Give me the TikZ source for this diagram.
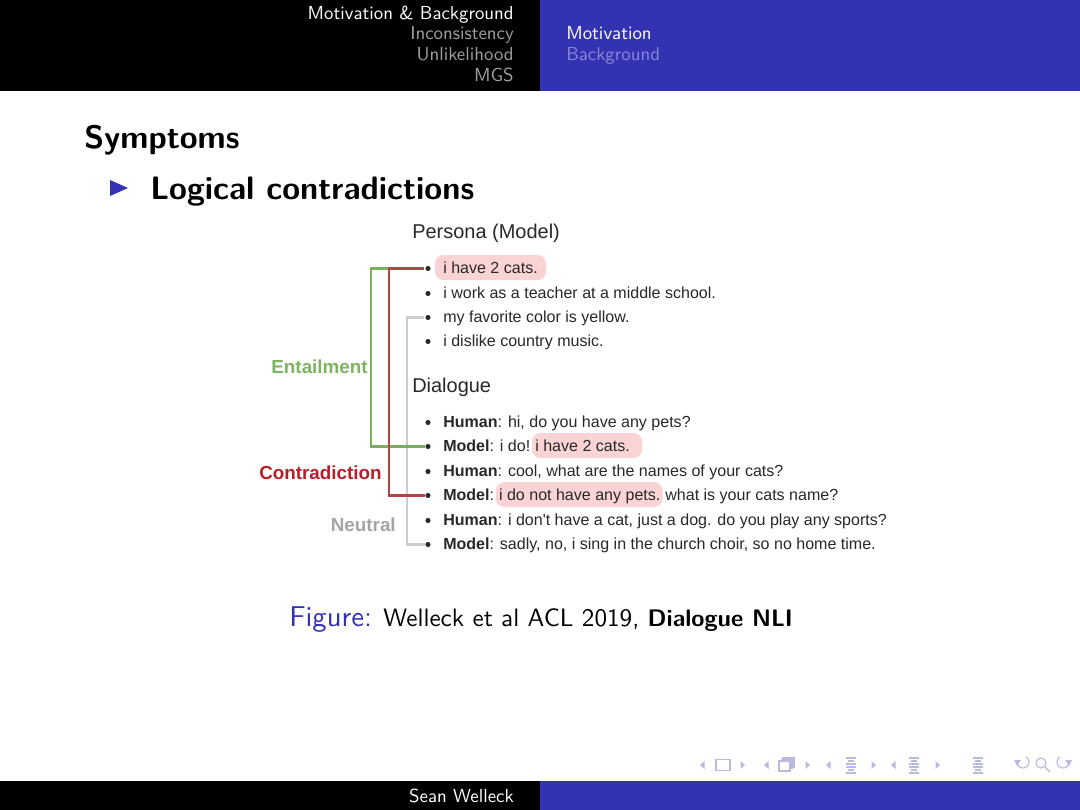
\documentclass[tikz,border=0pt]{standalone}
\usepackage{fontspec}
\setsansfont{lmsans10-regular.otf}[BoldFont=lmsans10-bold.otf]
\newfontfamily\figfont{Liberation Sans}
\usetikzlibrary{calc,backgrounds}
\definecolor{bblue}{RGB}{51,51,178}
\definecolor{hdgray}{RGB}{160,160,160}
\definecolor{hdlite}{RGB}{135,135,218}
\definecolor{navc}{RGB}{185,185,225}
\definecolor{entc}{RGB}{125,180,95}
\definecolor{entl}{RGB}{122,176,92}
\definecolor{conc}{RGB}{185,30,40}
\definecolor{conl}{RGB}{178,68,68}
\definecolor{neuc}{RGB}{165,165,165}
\definecolor{neul}{RGB}{205,205,205}
\definecolor{hlc}{RGB}{250,212,212}
\definecolor{figtext}{RGB}{40,40,40}
\tikzset{
  hdr/.style={font=\sffamily\fontsize{13.4}{16}\selectfont, inner sep=0, anchor=base east},
  hdrr/.style={font=\sffamily\fontsize{13.4}{16}\selectfont, inner sep=0, anchor=base west},
  ttl/.style={font=\sffamily\bfseries\fontsize{23.1}{27}\selectfont, inner sep=0, anchor=base west},
  itemtxt/.style={font=\figfont\fontsize{11.4}{14}\selectfont, text=figtext, inner sep=0, anchor=base west},
  fighead/.style={font=\figfont\fontsize{14.2}{17}\selectfont, text=figtext, inner sep=0, anchor=base west},
  lbl/.style={font=\figfont\bfseries\fontsize{13.4}{16}\selectfont, inner sep=0, anchor=base east},
  bdot/.style={circle, fill=figtext, inner sep=0, minimum size=3.6pt},
  brk/.style={line width=2pt, shorten <=0.8pt},
  hl/.style={fill=hlc, rounded corners=6pt},
  navtri/.style={fill=navc},
  navln/.style={draw=navc, line width=0.8pt},
}
\begin{document}
\begin{tikzpicture}[x=0.025cm,y=-0.025cm]
\useasboundingbox (0,0) rectangle (1080,810);
% header
\fill[black] (0,0) rectangle (540,91);
\fill[bblue] (540,0) rectangle (1080,91);
\node[hdr, text=white] (h1) at (514,19) {Motivation \& Background};
\node[hdr, text=hdgray] (h2) at (514,39.7) {Inconsistency};
\node[hdr, text=hdgray] (h3) at (514,60.3) {Unlikelihood};
\node[hdr, text=hdgray] (h4) at (514,81) {MGS};
\node[hdrr, text=white] (h5) at (566,39.7) {Motivation};
\node[hdrr, text=hdlite] (h6) at (566,60.3) {Background};
% footer
\fill[black] (0,781) rectangle (540,810);
\fill[bblue] (540,781) rectangle (1080,810);
\node[hdr, text=white] (foot) at (514,802) {Sean Welleck};
% titles
\node[ttl] (title) at (84,148) {Symptoms};
\fill[bblue] (110,180) -- (128,188) -- (110,196) -- cycle;
\node[ttl] (sub) at (150,199) {Logical contradictions};
% figure
\node[fighead] (pers) at (412,238) {Persona (Model)};
\node[itemtxt] (p1) at (443,273) {i have 2 cats.};
\node[itemtxt] (p2) at (443,298) {i work as a teacher at a middle school.};
\node[itemtxt] (p3) at (443,322) {my favorite color is yellow.};
\node[itemtxt] (p4) at (443,346) {i dislike country music.};
\node[fighead] (dial) at (412,392) {Dialogue};
\node[itemtxt] (d1) at (443,427) {\textbf{Human}: hi, do you have any pets?};
\node[itemtxt] (d2a) at (443,451) {\textbf{Model}: i do!\ \null};
\node[itemtxt] (d2b) at (d2a.base east) {i have 2 cats.};
\node[itemtxt] (d3) at (443,476) {\textbf{Human}: cool, what are the names of your cats?};
\node[itemtxt] (d4a) at (443,500) {\textbf{Model}:\ \null};
\node[itemtxt] (d4b) at (d4a.base east) {i do not have any pets.};
\node[itemtxt] (d4c) at (d4b.base east) {\null\ what is your cats name?};
\node[itemtxt] (d5) at (443,525) {\textbf{Human}: i don't have a cat, just a dog. do you play any sports?};
\node[itemtxt] (d6) at (443,549) {\textbf{Model}: sadly, no, i sing in the church choir, so no home time.};
\begin{scope}[on background layer]
\fill[white] (0,91) rectangle (1080,781);
\fill[hl] ($(p1.base west)+(-8,-18)$) rectangle ($(p1.base east)+(8,7)$);
\fill[hl] ($(d2b.base west)+(-3,-18)$) rectangle ($(d2b.base east)+(12,7)$);
\fill[hl] ($(d4b.base west)+(-3,-18)$) rectangle ($(d4b.base east)+(2,7)$);
\end{scope}
% bullets
\foreach \n/\y in {bp1/268.5,bp2/293.5,bp3/317.5,bp4/341.5,bd1/422.5,bd2/446.5,bd3/471.5,bd4/495.5,bd5/520.5,bd6/544.5}
  \node[bdot] (\n) at (428,\y) {};
% brackets
\coordinate (ex) at (371,0);
\coordinate (cx) at (389,0);
\coordinate (nx) at (407,0);
\draw[brk, neul] (bp3.west) -- (bp3.west -| nx) -- (bd6.west -| nx) -- (bd6.west);
\draw[brk, entl] (bp1.west) -- (bp1.west -| ex) -- (bd2.west -| ex) -- (bd2.west);
\draw[brk, conl] (bp1.west) -- (bp1.west -| cx) -- (bd4.west -| cx) -- (bd4.west);
\node[lbl, text=entc] (ent) at (368,373) {Entailment};
\node[lbl, text=conc] (con) at (382,479) {Contradiction};
\node[lbl, text=neuc] (neu) at (396,531) {Neutral};
% caption
\node[inner sep=0, anchor=base west, text=bblue, font=\sffamily\fontsize{20.4}{24}\selectfont] (figl) at (289,626) {Figure:};
\node[inner sep=0, anchor=base west, font=\sffamily\fontsize{17.9}{22}\selectfont] (cap) at (383,626) {Welleck et al ACL 2019, {\fontsize{17}{22}\selectfont\bfseries Dialogue NLI}};
% navigation symbols
\foreach \x in {700,764,826,891} \fill[navtri] (\x,765) -- ++(4.5,-4) -- ++(0,8) -- cycle;
\foreach \x in {745,810,876,940} \fill[navtri] (\x,765) -- ++(-4.5,-4) -- ++(0,8) -- cycle;
\draw[navln] (716,759.5) rectangle (730,770.5);
\draw[navln] (779,761) rectangle (790,771);
\draw[navln] (782,758) -- (794,758) -- (794,768);
\draw[navln] (781,759.5) -- (792,759.5) -- (792,769);
\foreach \x in {851,914,978} {
  \draw[navln] (\x-5,758) -- (\x+5,758);
  \draw[navln] (\x-3,761) -- (\x+3,761);
  \draw[navln] (\x-5,764) -- (\x+5,764);
  \draw[navln] (\x-5,767) -- (\x+5,767);
  \draw[navln] (\x-3,770) -- (\x+3,770);
  \draw[navln] (\x-5,773) -- (\x+5,773);
}
\draw[navln] (1017,762) arc[start angle=180, end angle=-60, radius=6];
\fill[navtri] (1014,760) -- (1021,760) -- (1017,766) -- cycle;
\draw[navln] (1041,763) circle[radius=5];
\draw[navln] (1045,767) -- (1050,772);
\draw[navln] (1069,762) arc[start angle=0, end angle=240, radius=6];
\fill[navtri] (1072,760) -- (1065,760) -- (1069,766) -- cycle;
\end{tikzpicture}
\end{document}
